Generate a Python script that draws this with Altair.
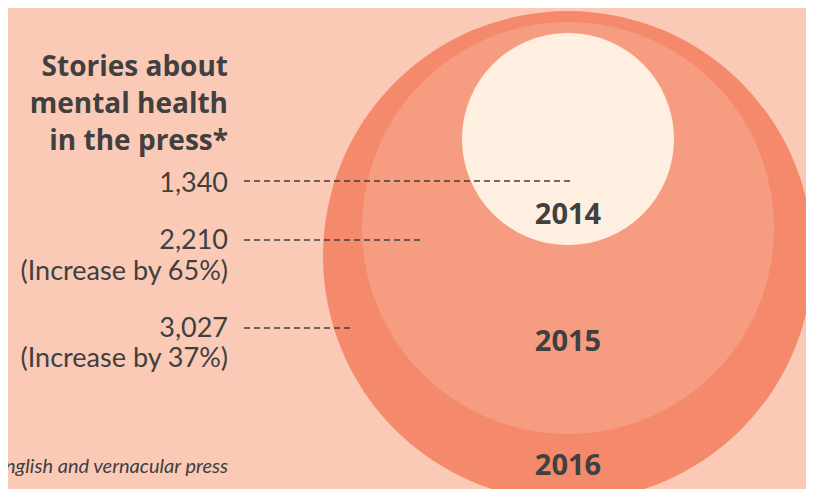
import altair as alt
import pandas as pd

# ---- data ----
years = ["2016", "2015", "2014"]
stories = [3027, 2210, 1340]
increase = ["37%", "65%", ""]

# ---- layout (reference pixel space) ----
circle_cx = [568, 568, 568]
circle_cy = [256, 228, 139]
circle_r = [245, 206, 106]
circle_col = ["#F4896B", "#F69C80", "#FEEFE0"]
year_label_y = [475, 351, 224]

value_label_y = [337, 249, 192]
increase_label_y = [367, 280, None]
dash_y = [328, 240, 181]
dash_x_end = [353, 423, 573]

title_lines = ["Stories about", "mental health", "in the press*"]
title_y = [76, 113, 150]
footnote = "*Includes English and vernacular press"

BG = "#FBCAB7"
INK = "#404040"
W, H = 798, 481
X0, Y0 = 8, 8

xs = alt.Scale(domain=[X0, X0 + W], nice=False, zero=False)
ys = alt.Scale(domain=[Y0, Y0 + H], nice=False, zero=False, reverse=True)

circles = pd.DataFrame({
    "year": years, "stories": stories, "cx": circle_cx, "cy": circle_cy,
    # vega symbol size = (diameter)^2
    "area": [(2 * r) ** 2 for r in circle_r], "col": circle_col,
    "ly": year_label_y,
})

circle_layer = alt.Chart(circles).mark_circle(opacity=1, clip=True).encode(
    x=alt.X("cx:Q", scale=xs, axis=None),
    y=alt.Y("cy:Q", scale=ys, axis=None),
    size=alt.Size("area:Q", scale=None),
    color=alt.Color("col:N", scale=None),
    order=alt.Order("stories:Q", sort="descending"),
)

year_layer = alt.Chart(circles).mark_text(
    font="Open Sans", fontWeight="bold", fontSize=29, color=INK,
    align="center", baseline="alphabetic",
).encode(
    x=alt.X("cx:Q", scale=xs, axis=None),
    y=alt.Y("ly:Q", scale=ys, axis=None),
    text="year:N",
)

dashes = pd.DataFrame({"y": dash_y, "x1": [244] * 3, "x2": dash_x_end})
dash_layer = alt.Chart(dashes).mark_rule(
    color=INK, strokeWidth=1.5, strokeDash=[6, 4],
).encode(
    x=alt.X("x1:Q", scale=xs, axis=None),
    x2="x2:Q",
    y=alt.Y("y:Q", scale=ys, axis=None),
)

vals = pd.DataFrame({
    "label": [f"{v:,}" for v in stories],
    "y": value_label_y,
})
inc = pd.DataFrame({
    "label": [f"(Increase by {p})" for p in increase if p],
    "y": [y for y in increase_label_y if y is not None],
})
num_df = pd.concat([vals, inc], ignore_index=True)
num_df["x"] = 228
num_layer = alt.Chart(num_df).mark_text(
    font="Lato", fontSize=27, color=INK, align="right", baseline="alphabetic",
).encode(
    x=alt.X("x:Q", scale=xs, axis=None),
    y=alt.Y("y:Q", scale=ys, axis=None),
    text="label:N",
)

title_df = pd.DataFrame({"label": title_lines, "y": title_y, "x": 228})
title_layer = alt.Chart(title_df).mark_text(
    font="Open Sans", fontWeight="bold", fontSize=28, color=INK,
    align="right", baseline="alphabetic",
).encode(
    x=alt.X("x:Q", scale=xs, axis=None),
    y=alt.Y("y:Q", scale=ys, axis=None),
    text="label:N",
)

foot_df = pd.DataFrame({"label": [footnote], "y": [473], "x": [228]})
foot_layer = alt.Chart(foot_df).mark_text(
    font="Lato", fontStyle="italic", fontSize=20, color=INK,
    align="right", baseline="alphabetic",
).encode(
    x=alt.X("x:Q", scale=xs, axis=None),
    y=alt.Y("y:Q", scale=ys, axis=None),
    text="label:N",
)

chart = alt.layer(
    circle_layer, year_layer, dash_layer, num_layer, title_layer, foot_layer
).properties(
    width=W, height=H, padding=0, autosize=alt.AutoSizeParams(type="none"),
    background=BG,
).configure_view(stroke=None, fill=BG)

chart.save("out.html", embed_options={"renderer": "svg", "actions": False})
